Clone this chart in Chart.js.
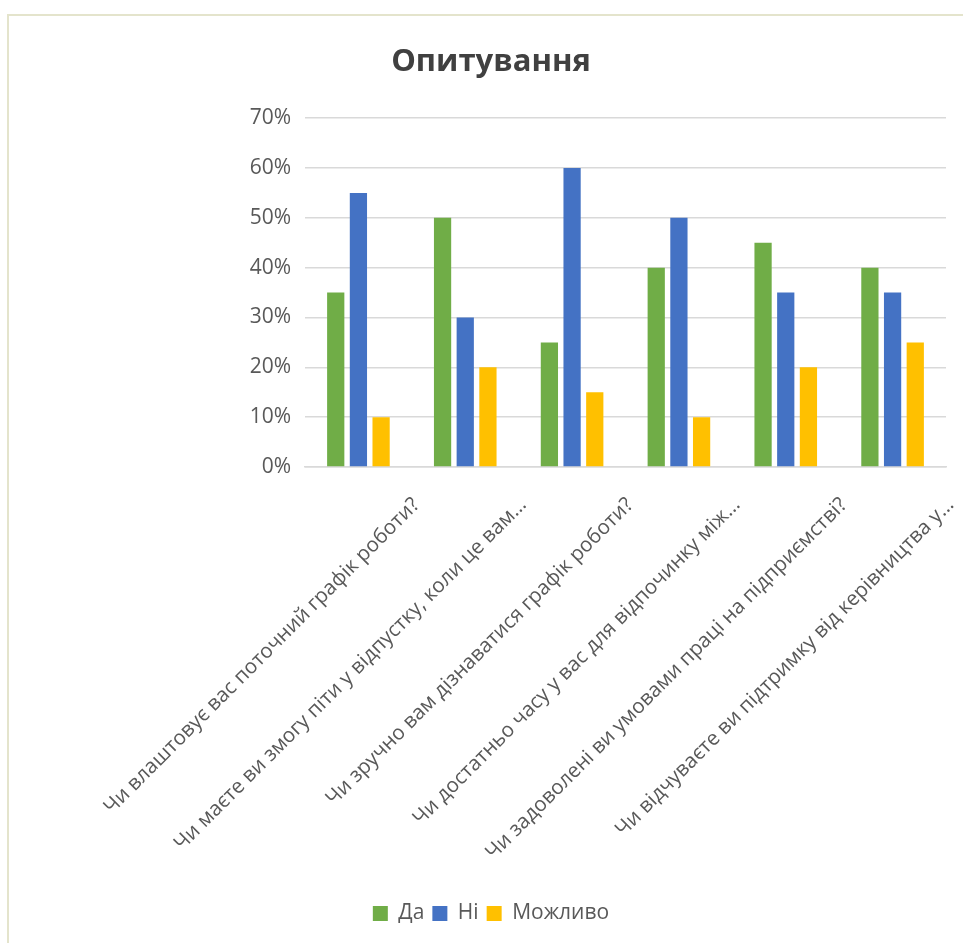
<!DOCTYPE html>
<html>
<head>
<meta charset="utf-8">
<script src="https://cdn.jsdelivr.net/npm/chart.js@4/dist/chart.umd.min.js"></script>
<style>
  html, body { margin: 0; padding: 0; background: #ffffff; overflow: hidden; }
  #frame {
    position: absolute; left: 7px; top: 14px;
    border-left: 2px solid #E4E4CC; border-top: 2px solid #E4E4CC;
    width: 965px; height: 929px;
  }
  #wrap { position: absolute; left: 0; top: 0; width: 965px; height: 927px; }
</style>
</head>
<body>
<div id="frame"><div id="wrap"><canvas id="c"></canvas></div></div>
<script>
const categories = [
  "Чи влаштовує вас поточний графік роботи?",
  "Чи маєте ви змогу піти у відпустку, коли це вам…",
  "Чи зручно вам дізнаватися графік роботи?",
  "Чи достатньо часу у вас для відпочинку між…",
  "Чи задоволені ви умовами праці на підприємстві?",
  "Чи відчуваєте ви підтримку від керівництва у…"
];
const seriesNames = ["Да", "Ні", "Можливо"];
const yesValues = [35, 50, 25, 40, 45, 40];
const noValues = [55, 30, 60, 50, 35, 35];
const maybeValues = [10, 20, 15, 10, 20, 25];
const yTickValues = [0, 10, 20, 30, 40, 50, 60, 70];

const FONT = "'Open Sans', 'Segoe UI', 'DejaVu Sans', sans-serif";
const TXT = "#595959";

new Chart(document.getElementById("c"), {
  type: "bar",
  data: {
    labels: categories,
    datasets: [
      { label: seriesNames[0], data: yesValues, backgroundColor: "#70AD47" },
      { label: seriesNames[1], data: noValues, backgroundColor: "#4472C4" },
      { label: seriesNames[2], data: maybeValues, backgroundColor: "#FFC000" }
    ]
  },
  options: {
    responsive: true,
    maintainAspectRatio: false,
    animation: false,
    datasets: { bar: { categoryPercentage: 0.637, barPercentage: 0.76 } },
    layout: { padding: { left: 27, right: 28, top: 0, bottom: 9 } },
    plugins: {
      title: {
        display: true,
        text: "Опитування",
        color: "#404040",
        font: { family: FONT, size: 31, weight: "bold" },
        padding: { top: 28, bottom: 37 }
      },
      legend: {
        display: true,
        position: "bottom",
        labels: {
          color: TXT,
          font: { family: FONT, size: 21 },
          boxWidth: 15,
          boxHeight: 15,
          padding: 8
        }
      },
      tooltip: { enabled: false }
    },
    scales: {
      x: {
        grid: { display: false, drawTicks: false },
        border: { display: true, color: "#D9D9D9", width: 1.5 },
        ticks: {
          autoSkip: false,
          minRotation: 45,
          maxRotation: 45,
          color: TXT,
          font: { family: FONT, size: 20.5 },
          labelOffset: 58,
          padding: 26
        },
        afterFit: (scale) => { scale.height = 428; scale.paddingLeft = 0; scale.paddingRight = 0; }
      },
      y: {
        min: 0,
        max: 70,
        afterBuildTicks: (scale) => { scale.ticks = yTickValues.map(v => ({ value: v })); },
        grid: { color: "#D9D9D9", lineWidth: 1.5, drawTicks: false },
        border: { display: false },
        ticks: {
          color: TXT,
          font: { family: FONT, size: 21 },
          padding: 14,
          callback: (v) => v + "%"
        },
        afterFit: (scale) => { scale.width = 269; scale.paddingTop = 0; scale.paddingBottom = 0; }
      }
    }
  }
});
</script>
</body>
</html>
